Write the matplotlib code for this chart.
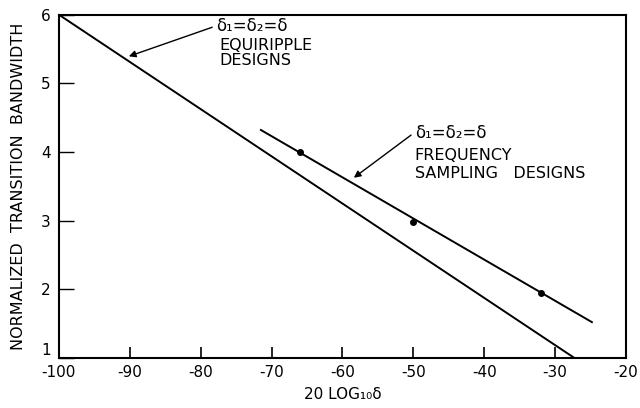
import numpy as np
import matplotlib.pyplot as plt

# equiripple designs (straight line)
equi_x = [-100, -27.3]
equi_y = [6.0, 1.0]

# frequency sampling designs: fitted line and measured points
freq_line_x = [-71.5, -24.8]
freq_line_y = [4.32, 1.52]
freq_pts_x = [-66, -50, -32]
freq_pts_y = [4.0, 2.98, 1.95]

x_ticks = [-100, -90, -80, -70, -60, -50, -40, -30, -20]
y_ticks = [1, 2, 3, 4, 5, 6]

plt.rcParams['font.family'] = 'DejaVu Sans'

fig = plt.figure(figsize=(6.4, 4.08), dpi=100)
ax = fig.add_axes([0.092, 0.123, 0.886, 0.841])

ax.plot(equi_x, equi_y, color='black', lw=1.4)
ax.plot(freq_line_x, freq_line_y, color='black', lw=1.4)
ax.plot(freq_pts_x, freq_pts_y, 'o', color='black', ms=4)

ax.set_xlim(-100, -20)
ax.set_ylim(1, 6)
ax.set_xticks(x_ticks)
ax.set_xticklabels(['-' + str(abs(v)) for v in x_ticks], fontsize=11)
ax.set_yticks(y_ticks)
ax.set_yticklabels([str(v) for v in y_ticks], fontsize=11)
ax.get_yticklabels()[0].set_va('bottom')
ax.tick_params(axis='x', direction='in', length=8, width=1.2, pad=5)
ax.tick_params(axis='y', direction='in', length=11, width=1.0, pad=6)
for s in ax.spines.values():
    s.set_linewidth(1.5)

ax.set_xlabel('20 LOG\u2081\u2080\u03b4', fontsize=11, labelpad=5)
ax.set_ylabel('NORMALIZED  TRANSITION  BANDWIDTH', fontsize=11.5, labelpad=11)

# annotations
ax.annotate('', xy=(-90.5, 5.38), xytext=(-78.0, 5.83),
            arrowprops=dict(arrowstyle='-|>', color='black', lw=1.0,
                            mutation_scale=10))
ax.text(-77.8, 5.83, '\u03b4\u2081=\u03b4\u2082=\u03b4', fontsize=12, va='center', ha='left')
ax.text(-77.4, 5.55, 'EQUIRIPPLE', fontsize=11.5, va='center', ha='left')
ax.text(-77.4, 5.33, 'DESIGNS', fontsize=11.5, va='center', ha='left')

ax.annotate('', xy=(-58.7, 3.6), xytext=(-50.0, 4.27),
            arrowprops=dict(arrowstyle='-|>', color='black', lw=1.0,
                            mutation_scale=10))
ax.text(-49.8, 4.27, '\u03b4\u2081=\u03b4\u2082=\u03b4', fontsize=12, va='center', ha='left')
ax.text(-49.8, 3.95, 'FREQUENCY', fontsize=11.5, va='center', ha='left')
ax.text(-49.8, 3.69, 'SAMPLING   DESIGNS', fontsize=11.5, va='center', ha='left')

fig.savefig('out.png', dpi=100)
